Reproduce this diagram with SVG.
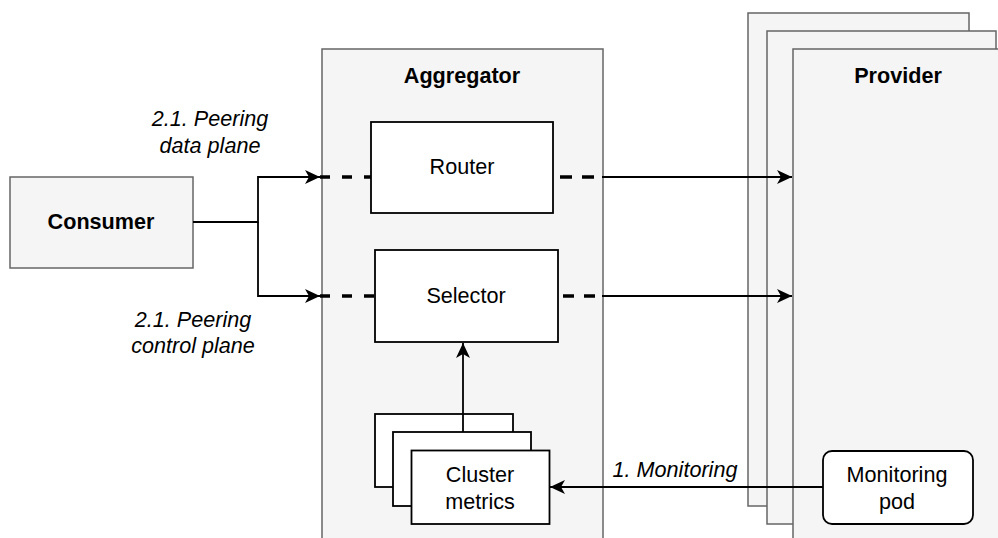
<svg xmlns="http://www.w3.org/2000/svg" width="998" height="538" viewBox="0 0 998 538">
  <style>
    text { font-family: "Liberation Sans", Arial, sans-serif; font-size: 21.6px; fill: #000; text-anchor: middle; }
    .bold { font-weight: bold; }
    .it { font-style: italic; }
    .container { fill: #f5f5f5; stroke: #666666; stroke-width: 1.5; }
    .box { fill: #ffffff; stroke: #000000; stroke-width: 1.8; }
    .line { fill: none; stroke: #000000; stroke-width: 1.8; }
    .dash { fill: none; stroke: #000000; stroke-width: 3.5; }
  </style>
  <defs>
    <marker id="arrow" markerUnits="userSpaceOnUse" markerWidth="20" markerHeight="20" refX="16" refY="8" orient="auto">
      <path d="M16,8 L1,1 L5,8 L1,15 Z" fill="#000"/>
    </marker>
  </defs>

  <rect width="998" height="538" fill="#ffffff"/>

  <!-- Provider stack -->
  <g id="provider">
    <rect class="container" x="748" y="13" width="221" height="493"/>
    <rect class="container" x="767" y="31" width="229" height="493"/>
    <rect class="container" x="793" y="49" width="229" height="500"/>
    <text class="bold" x="898" y="83">Provider</text>
  </g>

  <!-- Aggregator container -->
  <g id="aggregator">
    <rect class="container" x="322" y="49" width="281" height="500"/>
    <text class="bold" x="462" y="83">Aggregator</text>
  </g>

  <!-- Consumer -->
  <g id="consumer">
    <rect class="container" x="10" y="177" width="183" height="91"/>
    <text class="bold" x="101" y="229">Consumer</text>
  </g>

  <!-- Router -->
  <g id="router">
    <rect class="box" x="371" y="122" width="182" height="91"/>
    <text x="462" y="174">Router</text>
  </g>

  <!-- Selector -->
  <g id="selector">
    <rect class="box" x="375" y="250" width="183" height="92"/>
    <text x="466" y="302.5">Selector</text>
  </g>

  <!-- Cluster metrics stack -->
  <g id="cluster-metrics">
    <rect class="box" x="375" y="414" width="138" height="73"/>
    <rect class="box" x="393" y="432" width="138" height="74"/>
    <rect class="box" x="411.5" y="450.5" width="138" height="73.5"/>
    <text x="480" y="481.5">Cluster</text>
    <text x="480" y="508.5">metrics</text>
  </g>

  <!-- Monitoring pod -->
  <g id="monitoring-pod">
    <rect class="box" x="823" y="451" width="150" height="73" rx="9" ry="9"/>
    <text x="897" y="481.5">Monitoring</text>
    <text x="897" y="508.5">pod</text>
  </g>

  <!-- Connectors -->
  <g id="connectors">
    <!-- consumer to aggregator -->
    <path class="line" d="M193,222 H258 V177 H320" marker-end="url(#arrow)"/>
    <path class="line" d="M258,222 V296 H320" marker-end="url(#arrow)"/>
    <!-- dashed pass-through segments inside aggregator -->
    <path class="dash" d="M320,177 H371" stroke-dasharray="10 12"/>
    <path class="dash" d="M320,296 H375" stroke-dasharray="10 12"/>
    <path class="dash" d="M560,177 H594" stroke-dasharray="12 10"/>
    <path class="dash" d="M563,296 H595" stroke-dasharray="11 10"/>
    <!-- aggregator to provider -->
    <path class="line" d="M602,177 H792" marker-end="url(#arrow)"/>
    <path class="line" d="M602,296 H792" marker-end="url(#arrow)"/>
    <!-- metrics to selector -->
    <path class="line" d="M463,432 V343" marker-end="url(#arrow)"/>
    <!-- monitoring -->
    <path class="line" d="M823,487 H550" marker-end="url(#arrow)"/>
  </g>

  <!-- Edge labels -->
  <g id="labels">
    <text class="it" x="210" y="126">2.1. Peering</text>
    <text class="it" x="210" y="152.5">data plane</text>
    <text class="it" x="193" y="326.5">2.1. Peering</text>
    <text class="it" x="193" y="353">control plane</text>
    <text class="it" x="675" y="476.5">1. Monitoring</text>
  </g>
</svg>
